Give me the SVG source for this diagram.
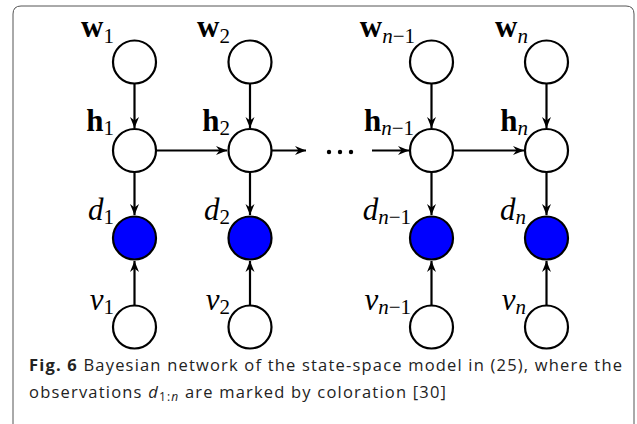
<svg xmlns="http://www.w3.org/2000/svg" width="637" height="424" viewBox="0 0 637 424">
<style>
.node{fill:#fff;stroke:#000;stroke-width:2.2}
.obs{fill:#0000ff;stroke:#000;stroke-width:2.2}
.edge{stroke:#000;stroke-width:2.2;fill:none;marker-end:url(#ah)}
.lbl{font-family:"Liberation Serif","DejaVu Serif",serif;font-size:31px;fill:#000}
.b{font-weight:bold}
.i{font-style:italic}
.sub{font-size:21px}
.cap{font-family:"Open Sans","Noto Sans",sans-serif;font-size:16.5px;fill:#222}
</style>
<defs>
<marker id="ah" markerWidth="12" markerHeight="10" viewBox="-11 -5 12 10" refX="0" refY="0" orient="auto" markerUnits="userSpaceOnUse">
<path d="M0,0 L-11,-4.5 L-7.5,0 L-11,4.5 z" fill="#000"/>
</marker>
</defs>
<path d="M13,430 L13,14 Q13,6 21,6 L626,6 Q634,6 634,14 L634,430" fill="none" stroke="#555" stroke-width="1"/>
<g id="connectors">
<line class="edge" x1="134.5" y1="84" x2="134.5" y2="128"/>
<line class="edge" x1="250" y1="84" x2="250" y2="128"/>
<line class="edge" x1="431.5" y1="84" x2="431.5" y2="128"/>
<line class="edge" x1="546.5" y1="84" x2="546.5" y2="128"/>
<line class="edge" x1="134.5" y1="172" x2="134.5" y2="215"/>
<line class="edge" x1="250" y1="172" x2="250" y2="215"/>
<line class="edge" x1="431.5" y1="172" x2="431.5" y2="215"/>
<line class="edge" x1="546.5" y1="172" x2="546.5" y2="215"/>
<line class="edge" x1="134.5" y1="305" x2="134.5" y2="261"/>
<line class="edge" x1="250" y1="305" x2="250" y2="261"/>
<line class="edge" x1="431.5" y1="305" x2="431.5" y2="261"/>
<line class="edge" x1="546.5" y1="305" x2="546.5" y2="261"/>
<line class="edge" x1="156" y1="150.5" x2="227" y2="150.5"/>
<line class="edge" x1="272" y1="150.5" x2="306" y2="150.5"/>
<line class="edge" x1="372" y1="150.5" x2="409" y2="150.5"/>
<line class="edge" x1="454" y1="150.5" x2="524" y2="150.5"/>
<circle cx="329" cy="152" r="2.2" fill="#000"/>
<circle cx="340" cy="152" r="2.2" fill="#000"/>
<circle cx="351" cy="152" r="2.2" fill="#000"/>
</g>
<g id="w1"><circle class="node" cx="134.5" cy="62" r="21.5"/><text class="lbl" x="114" y="37" text-anchor="end"><tspan class="b">w</tspan><tspan class="sub" dy="6">1</tspan></text></g>
<g id="w2"><circle class="node" cx="250" cy="62" r="21.5"/><text class="lbl" x="230" y="37" text-anchor="end"><tspan class="b">w</tspan><tspan class="sub" dy="6">2</tspan></text></g>
<g id="wn1"><circle class="node" cx="431.5" cy="62" r="21.5"/><text class="lbl" x="415" y="37" text-anchor="end"><tspan class="b">w</tspan><tspan class="sub i" dy="6">n</tspan><tspan class="sub">−1</tspan></text></g>
<g id="wn"><circle class="node" cx="546.5" cy="62" r="21.5"/><text class="lbl" x="528" y="37" text-anchor="end"><tspan class="b">w</tspan><tspan class="sub i" dy="6">n</tspan></text></g>
<g id="h1"><circle class="node" cx="134.5" cy="150.5" r="21.5"/><text class="lbl" x="114" y="131" text-anchor="end"><tspan class="b">h</tspan><tspan class="sub" dy="4">1</tspan></text></g>
<g id="h2"><circle class="node" cx="250" cy="150.5" r="21.5"/><text class="lbl" x="230" y="131" text-anchor="end"><tspan class="b">h</tspan><tspan class="sub" dy="4">2</tspan></text></g>
<g id="hn1"><circle class="node" cx="431.5" cy="150.5" r="21.5"/><text class="lbl" x="414" y="131" text-anchor="end"><tspan class="b">h</tspan><tspan class="sub i" dy="4">n</tspan><tspan class="sub">−1</tspan></text></g>
<g id="hn"><circle class="node" cx="546.5" cy="150.5" r="21.5"/><text class="lbl" x="528" y="131" text-anchor="end"><tspan class="b">h</tspan><tspan class="sub i" dy="4">n</tspan></text></g>
<g id="d1"><circle class="obs" cx="134.5" cy="238" r="21.5"/><text class="lbl" x="114" y="220" text-anchor="end"><tspan class="i">d</tspan><tspan class="sub" dy="4">1</tspan></text></g>
<g id="d2"><circle class="obs" cx="250" cy="238" r="21.5"/><text class="lbl" x="230" y="220" text-anchor="end"><tspan class="i">d</tspan><tspan class="sub" dy="4">2</tspan></text></g>
<g id="dn1"><circle class="obs" cx="431.5" cy="238" r="21.5"/><text class="lbl" x="411" y="220" text-anchor="end"><tspan class="i">d</tspan><tspan class="sub i" dy="4">n</tspan><tspan class="sub">−1</tspan></text></g>
<g id="dn"><circle class="obs" cx="546.5" cy="238" r="21.5"/><text class="lbl" x="526" y="220" text-anchor="end"><tspan class="i">d</tspan><tspan class="sub i" dy="4">n</tspan></text></g>
<g id="v1"><circle class="node" cx="134.5" cy="327" r="21.5"/><text class="lbl" x="114" y="310" text-anchor="end"><tspan class="i">v</tspan><tspan class="sub" dy="4">1</tspan></text></g>
<g id="v2"><circle class="node" cx="250" cy="327" r="21.5"/><text class="lbl" x="230" y="310" text-anchor="end"><tspan class="i">v</tspan><tspan class="sub" dy="4">2</tspan></text></g>
<g id="vn1"><circle class="node" cx="431.5" cy="327" r="21.5"/><text class="lbl" x="411" y="310" text-anchor="end"><tspan class="i">v</tspan><tspan class="sub i" dy="4">n</tspan><tspan class="sub">−1</tspan></text></g>
<g id="vn"><circle class="node" cx="546.5" cy="327" r="21.5"/><text class="lbl" x="526" y="310" text-anchor="end"><tspan class="i">v</tspan><tspan class="sub i" dy="4">n</tspan></text></g>
<g id="caption">
<text class="cap" x="29" y="371" textLength="593" lengthAdjust="spacing"><tspan font-weight="bold">Fig. 6</tspan> Bayesian network of the state-space model in (25), where the</text>
<text class="cap" x="29" y="398" textLength="417" lengthAdjust="spacing">observations <tspan font-style="italic">d</tspan><tspan font-size="12" dy="3">1:<tspan font-style="italic">n</tspan></tspan><tspan dy="-3"> are marked by coloration [30]</tspan></text>
</g>
</svg>
